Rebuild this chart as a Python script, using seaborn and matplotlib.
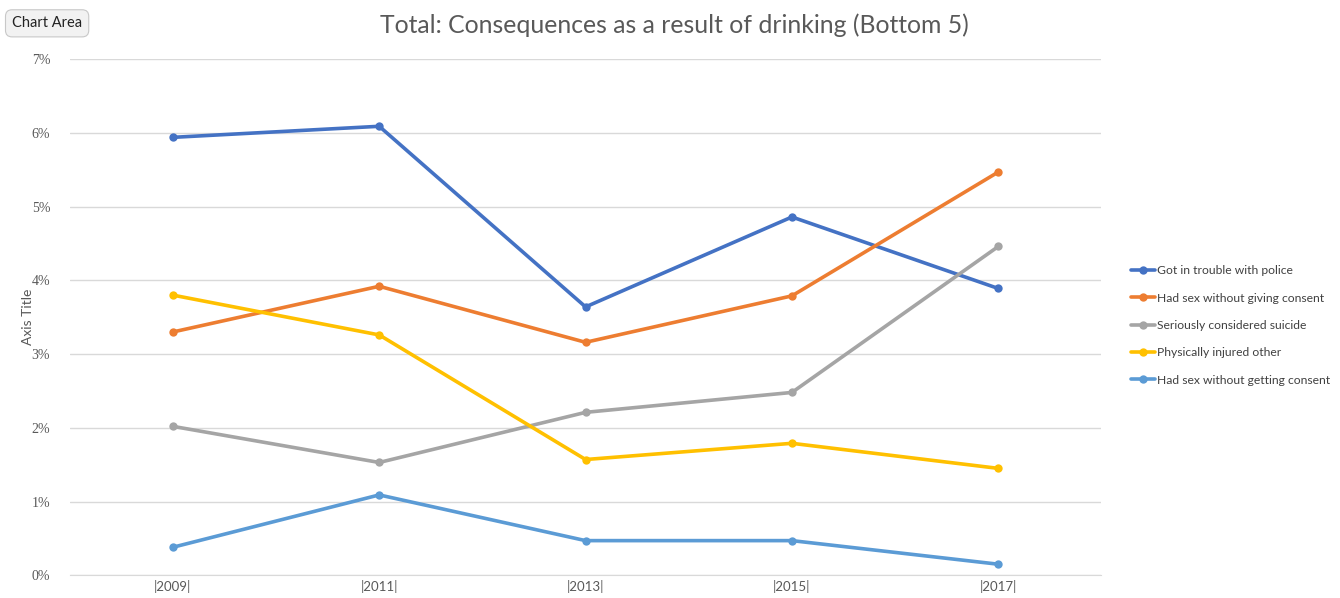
import pandas as pd
import matplotlib.pyplot as plt
import seaborn as sns
from matplotlib.ticker import PercentFormatter

# data (percent)
years = ["|2009|", "|2011|", "|2013|", "|2015|", "|2017|"]
police = [5.94, 6.09, 3.64, 4.86, 3.89]
sex_giving = [3.30, 3.92, 3.16, 3.79, 5.47]
suicide = [2.02, 1.53, 2.21, 2.48, 4.46]
injured = [3.80, 3.26, 1.57, 1.79, 1.45]
sex_getting = [0.38, 1.09, 0.47, 0.47, 0.15]

series_names = ["Got in trouble with police", "Had sex without giving consent",
                "Seriously considered suicide", "Physically injured other",
                "Had sex without getting consent"]
colors = ["#4472C4", "#ED7D31", "#A5A5A5", "#FFC000", "#5B9BD5"]

rows = []
for name, vals in zip(series_names, [police, sex_giving, suicide, injured, sex_getting]):
    for i, v in enumerate(vals):
        rows.append({"Year": i, "Value": v, "Series": name})
df = pd.DataFrame(rows)

sns.set_style("white")
plt.rcParams['font.family'] = ['Lato', 'DejaVu Sans']

fig = plt.figure(figsize=(13.4, 5.98), dpi=100)
ax = fig.add_axes([0.052, 0.038, 0.77, 0.863])

sns.lineplot(data=df, x="Year", y="Value", hue="Series", palette=colors,
             marker="o", markersize=6, markeredgewidth=0, linewidth=2.6, ax=ax)

ax.set_xlim(-0.5, 4.5)
ax.set_ylim(0, 7)
ax.set_yticks(range(0, 8))
ax.yaxis.set_major_formatter(PercentFormatter(decimals=0))
ax.set_xticks(range(5))
ax.set_xticklabels(years)
ax.grid(axis="y", color="#D9D9D9", linewidth=1)
ax.set_axisbelow(True)
for s in ["top", "right", "left"]:
    ax.spines[s].set_visible(False)
ax.spines["bottom"].set_color("#D9D9D9")
ax.tick_params(axis="both", length=0, colors="#595959")
for lbl in ax.get_yticklabels():
    lbl.set_family("Liberation Serif")
    lbl.set_fontsize(10)
for lbl in ax.get_xticklabels():
    lbl.set_fontsize(9.5)
ax.tick_params(axis="y", pad=14)
ax.set_xlabel("")
ax.set_ylabel("Axis Title", fontsize=10, color="#595959", labelpad=-2)

fig.suptitle("Total: Consequences as a result of drinking (Bottom 5)",
             x=0.503, y=0.978, fontsize=17.8, color="#595959")

ax.legend(loc="center left", bbox_to_anchor=(1.018, 0.484), frameon=False,
          fontsize=8.7, handlelength=2.0, handletextpad=0.15, labelspacing=1.35,
          labelcolor="#404040")

fig.text(0.009, 0.961, "Chart Area", fontsize=10.5, color="#222222", va="center",
         bbox=dict(boxstyle="round,pad=0.45", fc="#F2F2F2", ec="#C8C8C8", lw=0.8))

fig.savefig("out.png", dpi=100)
